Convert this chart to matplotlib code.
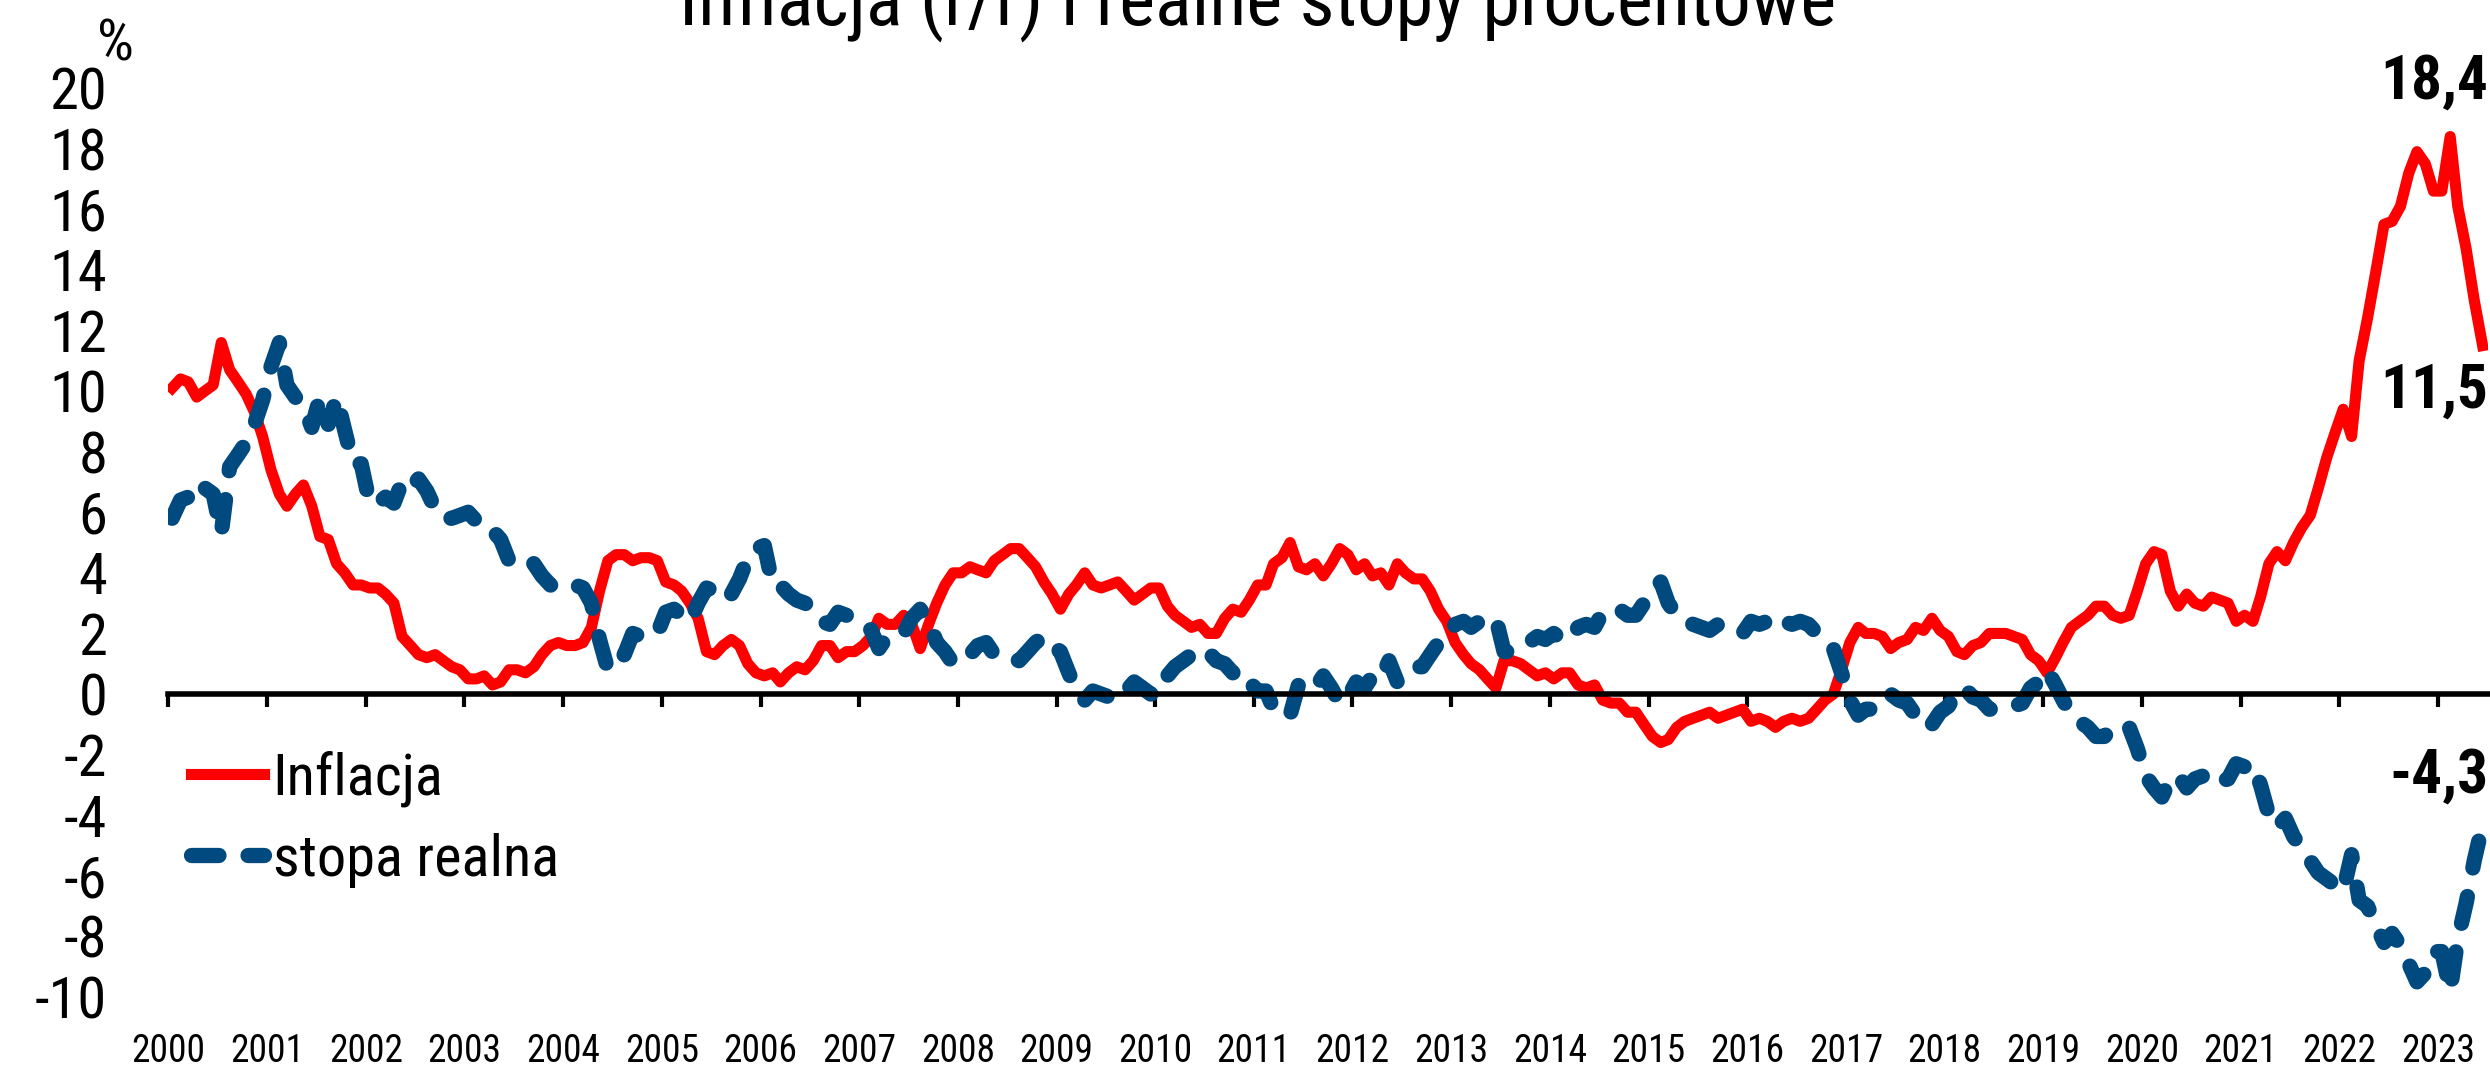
import pandas as pd
import matplotlib
matplotlib.use("Agg")
import matplotlib.pyplot as plt
import matplotlib.dates as mdates
from matplotlib import font_manager

# narrow font like the original, fall back to condensed DejaVu
names = {f.name for f in font_manager.fontManager.ttflist}
narrow = [n for n in ["Liberation Sans Narrow", "Roboto Condensed", "Open Sans Condensed"] if n in names]
plt.rcParams['font.family'] = narrow + ['DejaVu Sans']
plt.rcParams['font.stretch'] = 'condensed'
plt.rcParams['axes.unicode_minus'] = False

# monthly data, Jan 2000 - Jun 2023
inflacja = [
    10.1, 10.4, 10.3, 9.8, 10.0, 10.2, 11.6, 10.7, 10.3, 9.9, 9.3, 8.5,
    7.4, 6.6, 6.2, 6.6, 6.9, 6.2, 5.2, 5.1, 4.3, 4.0, 3.6, 3.6,
    3.5, 3.5, 3.3, 3.0, 1.9, 1.6, 1.3, 1.2, 1.3, 1.1, 0.9, 0.8,
    0.5, 0.5, 0.6, 0.3, 0.4, 0.8, 0.8, 0.7, 0.9, 1.3, 1.6, 1.7,
    1.6, 1.6, 1.7, 2.2, 3.4, 4.4, 4.6, 4.6, 4.4, 4.5, 4.5, 4.4,
    3.7, 3.6, 3.4, 3.0, 2.5, 1.4, 1.3, 1.6, 1.8, 1.6, 1.0, 0.7,
    0.6, 0.7, 0.4, 0.7, 0.9, 0.8, 1.1, 1.6, 1.6, 1.2, 1.4, 1.4,
    1.6, 1.9, 2.5, 2.3, 2.3, 2.6, 2.3, 1.5, 2.3, 3.0, 3.6, 4.0,
    4.0, 4.2, 4.1, 4.0, 4.4, 4.6, 4.8, 4.8, 4.5, 4.2, 3.7, 3.3,
    2.8, 3.3, 3.6, 4.0, 3.6, 3.5, 3.6, 3.7, 3.4, 3.1, 3.3, 3.5,
    3.5, 2.9, 2.6, 2.4, 2.2, 2.3, 2.0, 2.0, 2.5, 2.8, 2.7, 3.1,
    3.6, 3.6, 4.3, 4.5, 5.0, 4.2, 4.1, 4.3, 3.9, 4.3, 4.8, 4.6,
    4.1, 4.3, 3.9, 4.0, 3.6, 4.3, 4.0, 3.8, 3.8, 3.4, 2.8, 2.4,
    1.7, 1.3, 1.0, 0.8, 0.5, 0.2, 1.1, 1.1, 1.0, 0.8, 0.6, 0.7,
    0.5, 0.7, 0.7, 0.3, 0.2, 0.3, -0.2, -0.3, -0.3, -0.6, -0.6, -1.0,
    -1.4, -1.6, -1.5, -1.1, -0.9, -0.8, -0.7, -0.6, -0.8, -0.7, -0.6, -0.5,
    -0.9, -0.8, -0.9, -1.1, -0.9, -0.8, -0.9, -0.8, -0.5, -0.2, 0.0, 0.8,
    1.7, 2.2, 2.0, 2.0, 1.9, 1.5, 1.7, 1.8, 2.2, 2.1, 2.5, 2.1,
    1.9, 1.4, 1.3, 1.6, 1.7, 2.0, 2.0, 2.0, 1.9, 1.8, 1.3, 1.1,
    0.7, 1.2, 1.7, 2.2, 2.4, 2.6, 2.9, 2.9, 2.6, 2.5, 2.6, 3.4,
    4.3, 4.7, 4.6, 3.4, 2.9, 3.3, 3.0, 2.9, 3.2, 3.1, 3.0, 2.4,
    2.6, 2.4, 3.2, 4.3, 4.7, 4.4, 5.0, 5.5, 5.9, 6.8, 7.8, 8.6,
    9.4, 8.5, 11.0, 12.4, 13.9, 15.5, 15.6, 16.1, 17.2, 17.9, 17.5, 16.6,
    16.6, 18.4, 16.1, 14.7, 13.0, 11.5,
]

stopa_realna = [
    5.8, 6.4, 6.5, 7.0, 6.8, 6.6, 5.3, 7.5, 7.9, 8.3, 8.9, 9.7,
    10.8, 11.6, 10.2, 9.8, 9.5, 8.8, 9.8, 8.9, 9.8, 8.7, 7.6, 7.6,
    6.3, 6.3, 6.5, 6.3, 7.0, 6.8, 7.1, 6.7, 6.1, 5.8, 5.8, 5.9,
    6.0, 5.7, 5.4, 5.4, 5.1, 4.4, 4.4, 4.5, 4.3, 3.9, 3.6, 3.5,
    3.6, 3.6, 3.5, 3.0, 1.8, 0.8, 1.1, 1.3, 2.0, 1.9, 1.9, 2.0,
    2.7, 2.8, 2.6, 2.4, 3.0, 3.5, 3.4, 3.1, 3.3, 3.8, 4.5, 4.8,
    4.9, 3.6, 3.6, 3.3, 3.1, 3.0, 2.8, 2.4, 2.3, 2.7, 2.6, 2.5,
    2.4, 2.1, 1.5, 1.9, 1.9, 2.0, 2.5, 2.8, 2.4, 1.7, 1.4, 1.0,
    1.2, 1.3, 1.6, 1.7, 1.3, 1.3, 1.2, 1.1, 1.4, 1.7, 1.9, 1.6,
    1.4, 0.7, 0.1, -0.2, 0.1, 0.0, -0.1, -0.2, 0.1, 0.4, 0.2, 0.0,
    0.0, 0.6, 0.9, 1.1, 1.3, 1.2, 1.4, 1.1, 1.0, 0.7, 0.8, 0.4,
    0.1, 0.1, -0.5, -0.5, -0.7, 0.3, 0.4, 0.2, 0.6, 0.2, -0.3, -0.1,
    0.4, 0.2, 0.6, 0.5, 1.1, 0.4, 0.7, 0.9, 0.9, 1.3, 1.7, 1.8,
    2.3, 2.4, 2.2, 2.4, 2.5, 2.5, 1.4, 1.4, 1.5, 1.7, 1.9, 1.8,
    2.0, 1.8, 1.8, 2.2, 2.3, 2.2, 2.7, 2.8, 2.8, 2.6, 2.6, 3.0,
    3.5, 3.7, 3.0, 2.6, 2.4, 2.3, 2.2, 2.1, 2.3, 2.2, 2.1, 2.0,
    2.4, 2.3, 2.4, 2.6, 2.4, 2.3, 2.4, 2.3, 2.0, 1.7, 1.5, 0.7,
    -0.2, -0.7, -0.5, -0.5, -0.4, 0.0, -0.2, -0.3, -0.7, -0.6, -1.0, -0.6,
    -0.4, 0.1, 0.2, -0.1, -0.2, -0.5, -0.5, -0.5, -0.4, -0.3, 0.2, 0.4,
    0.8, 0.3, -0.2, -0.7, -0.9, -1.1, -1.4, -1.4, -1.1, -1.0, -1.1, -1.8,
    -2.7, -3.1, -3.4, -2.8, -2.7, -3.1, -2.8, -2.7, -3.0, -2.9, -2.8, -2.3,
    -2.4, -2.3, -3.0, -4.0, -4.4, -4.1, -4.7, -5.1, -5.5, -5.9, -6.1, -6.3,
    -6.5, -5.3, -6.8, -7.0, -7.6, -8.2, -7.9, -8.3, -8.9, -9.5, -9.2, -8.5,
    -8.5, -9.8, -8.1, -6.9, -5.5, -4.3,
]

y_ticks = list(range(-10, 21, 2))
labels_koniec = ["18,4", "11,5", "-4,3"]
labels_koniec_y = [20.2, 10.0, -2.7]

daty = pd.date_range("2000-01-01", periods=len(inflacja), freq="MS") + pd.Timedelta(days=14)

fig = plt.figure(figsize=(24.9, 10.66), dpi=100)
ax = fig.add_axes([0.0676, 0.0647, 0.9316, 0.8527])

ax.plot(daty, inflacja, color="#FF0000", lw=8, solid_joinstyle="round", label="Inflacja")
ax.plot(daty, stopa_realna, color="#004A7F", lw=11, dashes=(1.8, 1.9),
        dash_capstyle="round", dash_joinstyle="round", label="stopa realna")

ax.set_xlim(pd.Timestamp("2000-01-01"), pd.Timestamp("2023-07-05"))
ax.set_ylim(-10, 20)

for s in ["top", "right", "left"]:
    ax.spines[s].set_visible(False)
ax.spines["bottom"].set_position(("data", 0))
ax.spines["bottom"].set_linewidth(4)
ax.xaxis.set_major_locator(mdates.YearLocator())
ax.tick_params(axis="x", direction="out", length=9, width=3, labelbottom=False)

ax.set_yticks(y_ticks)
ax.set_yticklabels([str(v) for v in y_ticks])
ax.tick_params(axis="y", length=0, pad=44, labelsize=42)

# year labels at the bottom of the plot area
sec = ax.secondary_xaxis("bottom")
sec.spines["bottom"].set_visible(False)
sec.xaxis.set_major_locator(mdates.YearLocator())
sec.xaxis.set_major_formatter(mdates.DateFormatter("%Y"))
sec.tick_params(length=0, pad=26, labelsize=27)

for txt, yv in zip(labels_koniec, labels_koniec_y):
    ax.text(1.0, yv, txt, transform=ax.get_yaxis_transform(), ha="right", va="center",
            fontsize=44, fontweight="bold", clip_on=False)

fig.text(116 / 2490, 1 - 45 / 1066, "%", ha="center", va="center", fontsize=42)
fig.text(0.505, 1 - 25 / 1066, "Inflacja (r/r) i realne stopy procentowe",
         ha="center", va="baseline", fontsize=55)

ax.legend(loc="center left", bbox_to_anchor=(191 / 2490, 1 - 819 / 1066),
          bbox_transform=fig.transFigure, frameon=False, fontsize=42,
          handlelength=1.25, handletextpad=0.15, labelspacing=0.45,
          borderpad=0, borderaxespad=0)

fig.savefig("out.png", dpi=100)
